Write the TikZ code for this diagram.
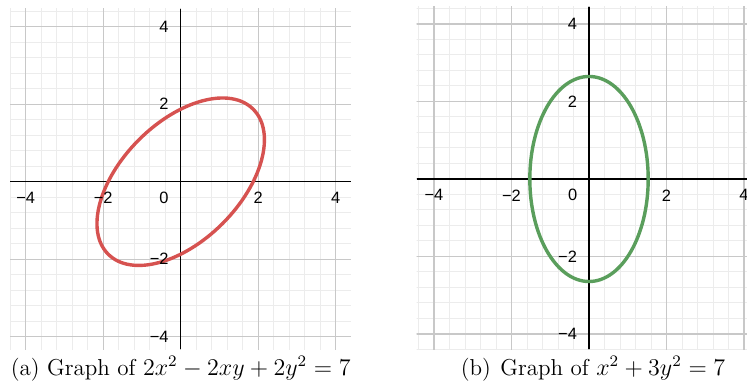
\documentclass[tikz,border=0pt]{standalone}
\usepackage{fontspec}
\newfontfamily\ticksans{Liberation Sans}
\definecolor{graphred}{RGB}{214,82,80}
\definecolor{graphgreen}{RGB}{90,158,92}
\definecolor{majorgray}{RGB}{200,200,200}
\definecolor{minorgray}{RGB}{236,236,236}

\begin{document}
\begin{tikzpicture}[x=0.68cm, y=0.68cm,
    minorgrid/.style={draw=minorgray, line width=0.5pt},
    majorgrid/.style={draw=majorgray, line width=0.6pt},
    axisline/.style={draw=black, line width=0.7pt},
    ticklabel/.style={font=\ticksans\fontsize{8.2}{9}\selectfont, inner sep=1pt},
    curve/.style={line width=1.7pt},
    caption/.style={font=\fontsize{11.5}{14}\selectfont, inner sep=0pt}]
    \useasboundingbox (-4.663,-5.221) rectangle (14.614,4.689);

    % (a) rotated ellipse
    \begin{scope}
        \begin{scope}
            \clip (-4.4,-4.32) rectangle (4.39,4.46);
            \draw[minorgrid, step=0.4] (-4.8,-4.8) grid (4.8,4.8);
            \draw[majorgrid, step=2] (-4.8,-4.8) grid (4.8,4.8);
        \end{scope}
        \draw[axisline] (-4.4,0) -- (4.39,0);
        \draw[axisline] (0,-4.32) -- (0,4.46);
        \draw[graphred, curve, rotate=45] (0,0) ellipse ({sqrt(7)} and {sqrt(7/3)});
        \foreach \v/\n in {-4/m4, -2/m2, 2/p2, 4/p4} {
            \node[ticklabel] (xa\n) at (\v,-0.42) {\ifnum\v<0 −\the\numexpr-\v\relax\else\v\fi};
            \node[ticklabel, anchor=east] (ya\n) at (-0.25,\v) {\ifnum\v<0 −\the\numexpr-\v\relax\else\v\fi};
        }
        \node[ticklabel] (oa) at (-0.43,-0.41) {0};
    \end{scope}

    % (b) axis-aligned ellipse
    \begin{scope}[shift={(10.537,0.07)}]
        \begin{scope}
            \clip (-4.45,-4.39) rectangle (4.1,4.44);
            \draw[minorgrid, step=0.4] (-4.8,-4.8) grid (4.8,4.8);
            \draw[majorgrid, step=2] (-4.8,-4.8) grid (4.8,4.8);
        \end{scope}
        \draw[axisline] (-4.45,0) -- (4.1,0);
        \draw[axisline] (0,-4.39) -- (0,4.44);
        \draw[graphgreen, curve] (0,0) ellipse ({sqrt(7/3)} and {sqrt(7)});
        \foreach \v/\n in {-4/m4, -2/m2, 2/p2, 4/p4} {
            \node[ticklabel] (xb\n) at (\v,-0.42) {\ifnum\v<0 −\the\numexpr-\v\relax\else\v\fi};
            \node[ticklabel, anchor=east] (yb\n) at (-0.25,\v) {\ifnum\v<0 −\the\numexpr-\v\relax\else\v\fi};
        }
        \node[ticklabel] (ob) at (-0.42,-0.41) {0};
    \end{scope}

    % captions
    \node[caption] (capa) at (0,-4.83) {(a) Graph of $2x^2-2xy+2y^2=7$};
    \node[caption] (capb) at (10.64,-4.83) {(b)\hspace{1pt} Graph of $x^2+3y^2=7$};
\end{tikzpicture}
\end{document}
